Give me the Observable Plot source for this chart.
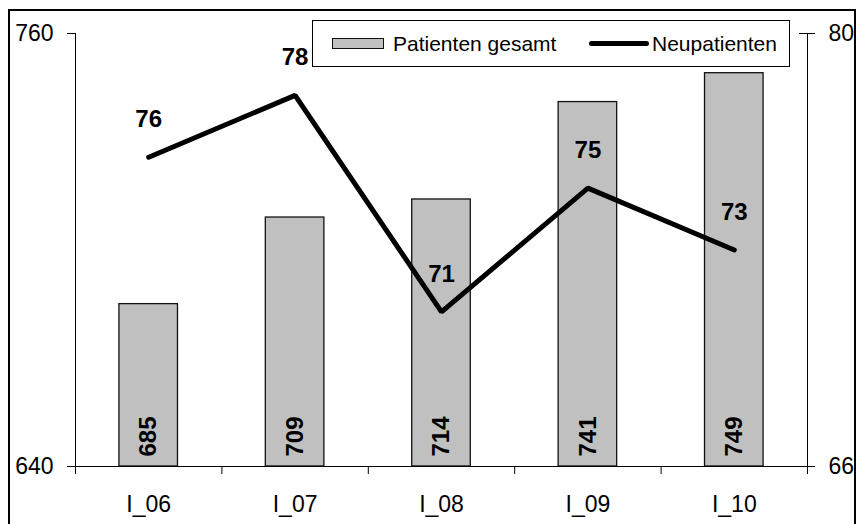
<!DOCTYPE html>
<html>
<head>
<meta charset="utf-8">
<script src="https://cdn.jsdelivr.net/npm/d3@7"></script>
<script src="https://cdn.jsdelivr.net/npm/@observablehq/plot@0.6"></script>
<style>
  html, body { margin: 0; padding: 0; background: #fff; }
  body { width: 859px; height: 524px; position: relative; overflow: hidden;
         font-family: "Liberation Sans", Arial, sans-serif; }
  #chart { position: absolute; left: 0; top: 0; }
  .frame { position: absolute; left: 8px; top: 9px; width: 848px; height: 540px;
           border: 2px solid #000; box-sizing: border-box; pointer-events: none; }
  .legend { position: absolute; left: 312px; top: 20px; width: 478px; height: 47px;
            border: 1px solid #000; box-sizing: border-box; background: #fff;
            font-size: 21px; color: #000; }
  .legend .item { position: absolute; top: 0; height: 45px; display: flex; align-items: center; }
  .legend .bar { width: 50px; height: 9px; background: #c0c0c0; border: 1.5px solid #111; margin-right: 9px; }
  .legend .line { width: 60px; height: 5px; background: #000; border-radius: 3px; margin-right: 3px; }
</style>
</head>
<body>
<div id="chart"></div>
<div class="legend">
  <div class="item" style="left:19px"><span class="bar"></span><span>Patienten gesamt</span></div>
  <div class="item" style="left:276px"><span class="line"></span><span>Neupatienten</span></div>
</div>
<div class="frame"></div>
<script>
// Quarterly figures
const categories = ["I_06", "I_07", "I_08", "I_09", "I_10"];
const totalPatients = [685, 709, 714, 741, 749];   // left axis (bars)
const newPatients = [76, 78, 71, 75, 73];          // right axis (line)
const leftTicks = [640, 760];
const rightTicks = [66, 80];

// Map the right-axis values onto the left-axis scale
const toLeft = v => leftTicks[0] + (v - rightTicks[0]) * (leftTicks[1] - leftTicks[0]) / (rightTicks[1] - rightTicks[0]);

const rows = categories.map((c, i) => ({
  cat: c,
  i,
  total: totalPatients[i],
  neu: newPatients[i],
  neuY: toLeft(newPatients[i])
}));

const font = "Liberation Sans, Arial, sans-serif";
const barWidth = 0.4;

const chart = Plot.plot({
  width: 859,
  height: 524,
  marginLeft: 75,
  marginRight: 52,
  marginTop: 33,
  marginBottom: 58,
  style: { fontFamily: font, color: "#000", background: "transparent" },
  x: { domain: [0, categories.length] },
  y: { domain: leftTicks },
  marks: [
    // bars
    Plot.rectY(rows, {
      x1: d => d.i + 0.5 - barWidth / 2,
      x2: d => d.i + 0.5 + barWidth / 2,
      y1: leftTicks[0],
      y2: "total",
      fill: "#c0c0c0",
      stroke: "#111",
      strokeWidth: 1.3
    }),
    // axis lines
    Plot.ruleX([0, categories.length], { stroke: "#000", strokeWidth: 1 }),
    Plot.ruleY([leftTicks[0]], { stroke: "#000", strokeWidth: 1 }),
    // left axis
    Plot.axisY({ anchor: "left", ticks: leftTicks, tickSize: 8, tickPadding: 14,
                 fontSize: 23, label: null, stroke: "#000" }),
    // right axis (cross ticks)
    Plot.ruleY(rightTicks.map(toLeft), { x1: categories.length, x2: categories.length,
                 insetLeft: -8, insetRight: -8, stroke: "#000", strokeWidth: 1 }),
    Plot.axisY({ anchor: "right", ticks: rightTicks.map(toLeft), tickSize: 0, tickPadding: 21,
                 tickFormat: (d, i) => String(rightTicks[i]), fontSize: 23, label: null }),
    // x axis: boundary ticks and centred labels
    Plot.axisX({ ticks: d3.range(categories.length + 1), tickSize: 8, tickFormat: () => "",
                 label: null, stroke: "#000" }),
    Plot.axisX({ ticks: categories.map((c, i) => i + 0.5), tickSize: 0, tickPadding: 29,
                 tickFormat: d => categories[Math.floor(d)], fontSize: 23, label: null }),
    // new-patients line
    Plot.line(rows, { x: d => d.i + 0.5, y: "neuY", stroke: "#000", strokeWidth: 5,
                      strokeLinejoin: "miter", strokeLinecap: "round" }),
    // bar value labels
    Plot.text(rows, { x: d => d.i + 0.5, y: leftTicks[0], text: d => String(d.total), rotate: -90,
                      textAnchor: "start", lineAnchor: "middle", dy: -10,
                      fontSize: 24, fontWeight: "bold", fill: "#000" }),
    // line value labels
    Plot.text(rows, { x: d => d.i + 0.5, y: "neuY", text: d => String(d.neu), dy: -38,
                      lineAnchor: "middle", fontSize: 24, fontWeight: "bold", fill: "#000" })
  ]
});

document.getElementById("chart").appendChild(chart);
</script>
</body>
</html>
